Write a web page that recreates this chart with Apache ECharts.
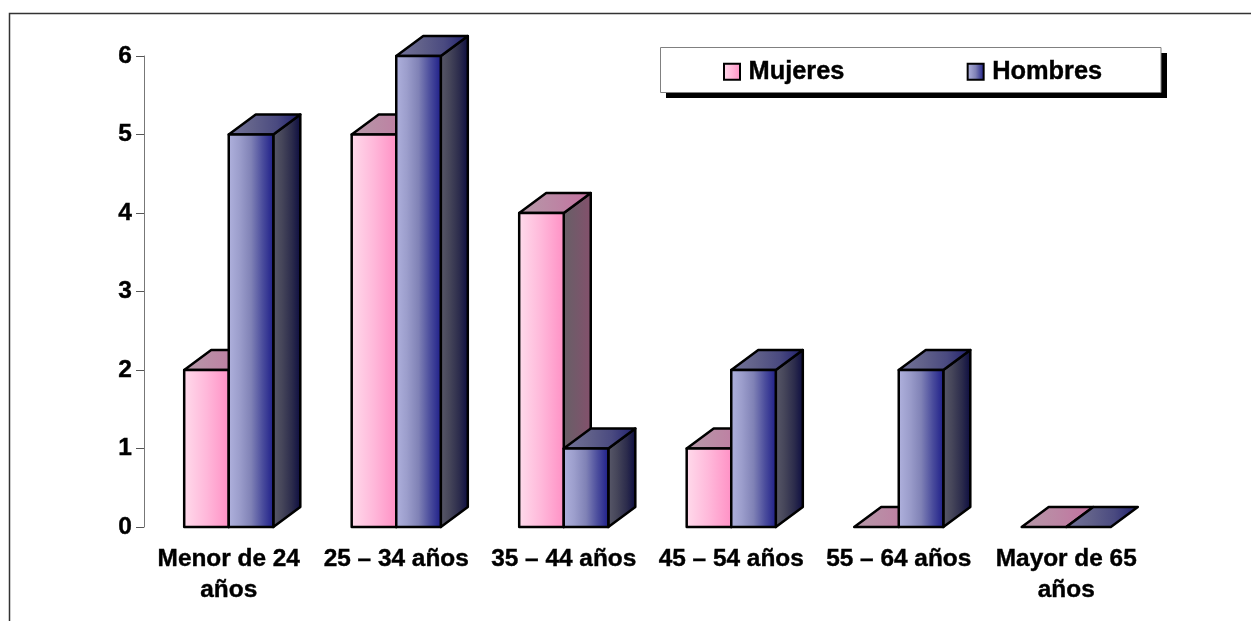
<!DOCTYPE html>
<html>
<head>
<meta charset="utf-8">
<style>html,body{margin:0;padding:0;background:#fff}#c{width:1251px;height:621px}</style>
<script src="https://cdn.jsdelivr.net/npm/echarts@6/dist/echarts.min.js"></script>
</head>
<body>
<div id="c"></div>
<script>
const categories = ['Menor de 24\naños', '25 – 34 años', '35 – 44 años', '45 – 54 años', '55 – 64 años', 'Mayor de 65\naños'];
const mujeres = [2, 5, 4, 1, 0, 0];
const hombres = [5, 6, 1, 2, 2, 0];
const seriesNames = ['Mujeres', 'Hombres'];
const yTicks = { min: 0, max: 6, interval: 1 };

const FONT = '"Liberation Sans", Arial, sans-serif';
const grad = (stops) => new echarts.graphic.LinearGradient(0, 0, 1, 0,
  stops.map((color, i) => ({ offset: i / (stops.length - 1), color })));
const palettes = [
  { front: ['#FFDCEC', '#FFB8DA', '#FF8FC4'], top: ['#B59AA8', '#BC86A4', '#C46F9F'], side: ['#666066', '#75586A', '#85506C'] },
  { front: ['#B0B2DE', '#9C9ECC', '#8082B6', '#4A4C9C', '#1B1B88'], top: ['#74749C', '#62628A', '#4A4A80', '#1E1E6E'], side: ['#5A5A6A', '#46465A', '#2C2C4C', '#0A0A40'] }
];
const BAR_RATIO = 0.266, DX = 27, DY = -20;

function renderBar(seriesIndex) {
  return function (params, api) {
    const cat = api.value(0), val = api.value(1);
    const top = api.coord([cat, val]);
    const base = api.coord([cat, 0]);
    const w = api.size([1, 0])[0] * BAR_RATIO;
    const x0 = top[0] + (seriesIndex === 0 ? -w : 0), x1 = x0 + w;
    const yT = top[1], yB = base[1];
    const pal = palettes[seriesIndex];
    const stroke = { stroke: '#000', lineWidth: 2.5, lineJoin: 'round' };
    const children = [];
    if (val > 0) {
      children.push({ type: 'polygon', shape: { points: [[x1, yT], [x1 + DX, yT + DY], [x1 + DX, yB + DY], [x1, yB]] },
        style: Object.assign({ fill: grad(pal.side) }, stroke) });
    }
    children.push({ type: 'polygon', shape: { points: [[x0, yT], [x0 + DX, yT + DY], [x1 + DX, yT + DY], [x1, yT]] },
      style: Object.assign({ fill: grad(pal.top) }, stroke) });
    if (val > 0) {
      children.push({ type: 'rect', shape: { x: x0, y: yT, width: w, height: yB - yT },
        style: Object.assign({ fill: grad(pal.front) }, stroke) });
    }
    return { type: 'group', children };
  };
}

const boldText = { color: '#000', fontFamily: FONT, fontWeight: 'bold', textBorderColor: '#000', textBorderWidth: 0.4 };

const chart = echarts.init(document.getElementById('c'), null, { renderer: 'canvas' });
chart.setOption({
  animation: false,
  backgroundColor: '#fff',
  grid: { left: 145, top: 56, width: 1005, height: 471, containLabel: false },
  xAxis: {
    type: 'category', data: categories,
    axisLine: { show: false }, axisTick: { show: false },
    axisLabel: Object.assign({ interval: 0, fontSize: 24.4, lineHeight: 31, margin: 17 }, boldText)
  },
  yAxis: {
    type: 'value', min: yTicks.min, max: yTicks.max, interval: yTicks.interval, offset: 1,
    splitLine: { show: false },
    axisLine: { show: true, lineStyle: { color: '#777', width: 1 } },
    axisTick: { show: true, length: 8, lineStyle: { color: '#555', width: 1 } },
    axisLabel: Object.assign({ fontSize: 24.5, margin: 12 }, boldText)
  },
  legend: {
    show: true, selectedMode: false, left: 661, top: 49, z: 20,
    padding: [10, 60, 10, 62], itemGap: 122, itemWidth: 16, itemHeight: 16,
    textStyle: Object.assign({ fontSize: 25.4, padding: [0, 0, 0, 3.5] }, boldText),
    data: seriesNames.map(n => ({ name: n, icon: 'rect' }))
  },
  graphic: [
    { type: 'polyline', silent: true, z: 1,
      shape: { points: [[9.5, 621], [9.5, 13.5], [1251, 13.5]] },
      style: { stroke: '#333', lineWidth: 1.5, fill: null } },
    { type: 'rect', silent: true, z: 10, shape: { x: 666, y: 53, width: 501, height: 45 }, style: { fill: '#000' } },
    { type: 'rect', silent: true, z: 11, shape: { x: 660.5, y: 47.5, width: 500.5, height: 45 },
      style: { fill: '#fff', stroke: '#808080', lineWidth: 1 } }
  ],
  series: [mujeres, hombres].map((vals, s) => ({
    type: 'custom', name: seriesNames[s], silent: true, z: 2 + s,
    coordinateSystem: 'cartesian2d',
    encode: { x: 0, y: 1 },
    itemStyle: { color: grad(palettes[s].front), borderColor: '#000', borderWidth: 2 },
    renderItem: renderBar(s),
    data: vals.map((v, i) => [i, v])
  }))
});
</script>
</body>
</html>
